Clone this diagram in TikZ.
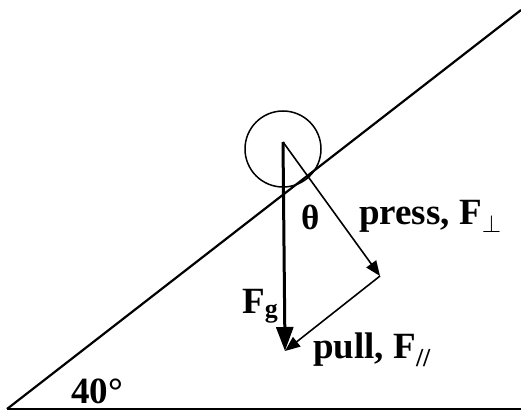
\documentclass[tikz,border=0pt]{standalone}
\usepackage{fontspec}
\setmainfont{Liberation Serif}
\usetikzlibrary{arrows.meta,positioning}

\begin{document}
\begin{tikzpicture}[x=1pt, y=-1pt, >={Triangle[length=15pt,width=12pt]},
    lbl/.style={inner sep=0pt, anchor=base west, font=\fontsize{37}{44}\selectfont\bfseries},
    force/.style={->, line width=1.6pt},
    weight/.style={-{Triangle[length=24pt,width=17pt]}, line width=3pt}]
\useasboundingbox (0,0) rectangle (521,411);
\coordinate (A) at (7,409);
\coordinate (B) at (521,10);
\coordinate (C) at (521,409);
\node[circle, draw, line width=1.5pt, minimum size=76pt, inner sep=0pt] (ball) at (283,149) {};
\coordinate (O) at (283,142);
\coordinate (G) at (285,351);
\coordinate (P) at (380,276);

\draw[line width=2.2pt] (A) -- (B);
\draw[line width=2.2pt] (A) -- (C);
\draw[weight] (O) -- (G);
\draw[force] (O) -- (P);
\draw[force] (P) -- (G);

\node[lbl, font=\fontsize{35}{42}\selectfont\bfseries] (theta) at (301,230) {θ};
\node[lbl] (press) at (359,225) {press, F\raisebox{-8pt}{\fontsize{24}{28}\selectfont$\perp$}};
\node[lbl] (Fg) at (242,313) {F\textsubscript{g}};
\node[lbl] (pull) at (313,358) {pull, F\textsubscript{//}};
\node[lbl] (angle) at (71,403) {40°};
\end{tikzpicture}
\end{document}
